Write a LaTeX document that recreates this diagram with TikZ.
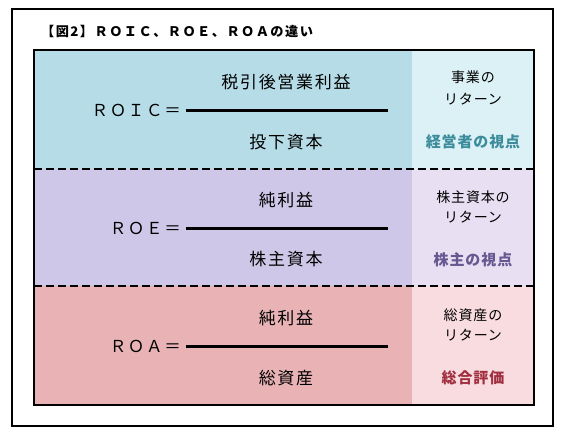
\documentclass[tikz,border=0pt]{standalone}
\usepackage{fontspec}
\newfontfamily\jp[LetterSpace=10]{Noto Sans CJK JP}
\newfontfamily\jpr[LetterSpace=6]{Noto Sans CJK JP}
\newfontfamily\jpt[LetterSpace=11]{Noto Sans CJK JP}
\definecolor{blueL}{HTML}{B6DDE7}
\definecolor{blueR}{HTML}{DCF1F6}
\definecolor{purpL}{HTML}{CFC7E7}
\definecolor{purpR}{HTML}{E8E0F2}
\definecolor{redL}{HTML}{E9B3B6}
\definecolor{redR}{HTML}{F8DCE0}
\definecolor{tealT}{HTML}{3C8C9C}
\definecolor{purpT}{HTML}{665890}
\definecolor{redT}{HTML}{A03040}
\begin{document}
\begin{tikzpicture}[x=1pt,y=-1pt,
  frac/.style={font=\jp\fontsize{17}{20}\selectfont, inner sep=0pt},
  lhs/.style={font=\jp\fontsize{16.5}{18}\selectfont\addfontfeature{LetterSpace=10}, anchor=east, inner sep=0pt},
  side/.style={font=\jpr\fontsize{14}{16}\selectfont, inner sep=0pt},
  sidebold/.style={font=\jpr\fontsize{15}{17}\selectfont\bfseries, inner sep=0pt},
  barline/.style={line width=3pt},
  sep/.style={line width=1.8pt, dash pattern=on 7.5pt off 4.5pt}]
\useasboundingbox (0,0) rectangle (564,440);
\fill[white] (0,0) rectangle (564,440);
% outer frame
\draw[line width=2pt] (12,9) rectangle (553,426);
% title
\node[anchor=west, inner sep=0pt, font=\jpt\fontsize{13.2}{15}\selectfont\bfseries] (title) at (41,31) {【図2】ＲＯＩＣ、ＲＯＥ、ＲＯＡの違い};
% fills
\fill[blueL] (34,50) rectangle (412,169);
\fill[blueR] (412,50) rectangle (534,169);
\fill[purpL] (34,169) rectangle (412,286);
\fill[purpR] (412,169) rectangle (534,286);
\fill[redL] (34,286) rectangle (412,405);
\fill[redR] (412,286) rectangle (534,405);
% separators
\coordinate (s1l) at (34,169); \coordinate (s1r) at (534,169);
\coordinate (s2l) at (34,286); \coordinate (s2r) at (534,286);
\draw[sep] (s1l) -- (s1r);
\draw[sep] (s2l) -- (s2r);
\draw[line width=2pt] (34,50) rectangle (534,405);
% ROIC
\node[lhs] (roic) at (181,110) {ＲＯＩＣ＝};
\coordinate (b1l) at (186,110);
\coordinate (b1r) at (388,110);
\draw[barline] (b1l) -- (b1r);
\node[frac] (roicn) at (286,82) {税引後営業利益};
\node[frac] (roicd) at (286,142) {投下資本};
\node[side] (r1a) at (473,77) {事業の};
\node[side] (r1b) at (473,99) {リターン};
\node[sidebold, text=tealT] (r1c) at (473,142) {経営者の視点};
% ROE
\node[lhs] (roe) at (181,228) {ＲＯＥ＝};
\coordinate (b2l) at (186,228);
\coordinate (b2r) at (388,228);
\draw[barline] (b2l) -- (b2r);
\node[frac] (roen) at (286,200) {純利益};
\node[frac] (roed) at (286,259) {株主資本};
\node[side] (r2a) at (473,197) {株主資本の};
\node[side] (r2b) at (473,217) {リターン};
\node[sidebold, text=purpT] (r2c) at (473,260) {株主の視点};
% ROA
\node[lhs] (roa) at (181,346) {ＲＯＡ＝};
\coordinate (b3l) at (186,346);
\coordinate (b3r) at (388,346);
\draw[barline] (b3l) -- (b3r);
\node[frac] (roan) at (286,318) {純利益};
\node[frac] (road) at (286,378) {総資産};
\node[side] (r3a) at (473,315) {総資産の};
\node[side] (r3b) at (473,335) {リターン};
\node[sidebold, text=redT] (r3c) at (473,378) {総合評価};
\end{tikzpicture}
\end{document}
